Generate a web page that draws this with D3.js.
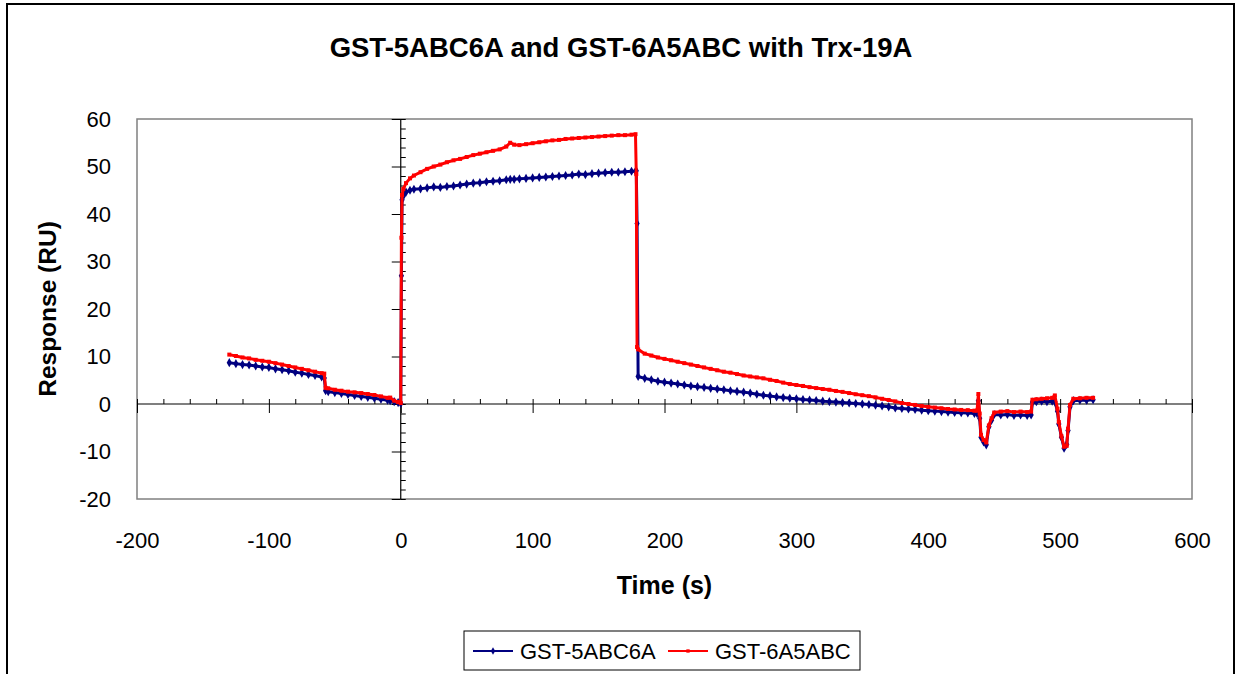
<!DOCTYPE html>
<html>
<head>
<meta charset="utf-8">
<script src="https://cdn.jsdelivr.net/npm/d3@7/dist/d3.min.js"></script>
<style>
  html, body { margin: 0; padding: 0; background: #fff; }
  svg { display: block; }
  text { font-family: "Liberation Sans", Arial, sans-serif; fill: #000; }
</style>
</head>
<body>
<svg id="chart" width="1236" height="674"></svg>
<script>
// Sensorgram: GST fusion proteins binding Trx-19A (response in RU vs time in s)

// Baseline before injection
const baselineTime = [-130,-125,-120,-115,-110,-105,-100,-95,-90,-85,-80,-75,-70,-65,-60,-58,-57,-55,-50,-45,-40,-35,-30,-25,-20,-15,-10,-8,-5,-2,0];
const baselineBlue = [8.7,8.5,8.3,8.2,8.0,7.8,7.7,7.4,7.2,7.0,6.7,6.5,6.2,6.0,5.7,5.5,2.8,2.6,2.4,2.2,2.0,1.8,1.6,1.4,1.2,1.0,0.8,0.7,0.5,0.3,0.1];
const baselineRed  = [10.4,10.1,9.8,9.6,9.3,9.1,8.9,8.6,8.3,8.0,7.7,7.4,7.1,6.8,6.5,6.4,3.4,3.3,3.0,2.8,2.6,2.45,2.3,2.1,1.9,1.6,1.3,1.35,0.7,0.4,0.2];

// Association phase
const assocTime = [0.5,1,2,4,7,10,15,20,25,30,35,40,45,50,55,60,65,70,75,80,83,86,90,95,100,105,110,115,120,125,130,135,140,145,150,155,160,165,170,175,178,178.6,179.2];
const assocBlue = [27,43,43.8,44.6,45.0,45.2,45.3,45.5,45.7,45.6,45.8,45.9,46.1,46.3,46.5,46.6,46.8,46.9,47.0,47.2,47.3,47.3,47.4,47.5,47.6,47.7,47.8,47.9,48.0,48.1,48.2,48.4,48.3,48.5,48.6,48.7,48.8,48.8,48.9,49.0,49.0,49.1,38.0];
const assocRed  = [35,44,45.3,46.5,47.5,48.1,48.8,49.5,50.0,50.4,50.9,51.3,51.6,52.0,52.4,52.7,53.0,53.3,53.6,54.2,55.0,54.6,54.5,54.7,54.9,55.1,55.3,55.5,55.6,55.8,55.9,56.0,56.1,56.2,56.3,56.4,56.5,56.6,56.6,56.7,56.8,48.4,12.0];

// Dissociation and regeneration pulses
const dissocTime = [180,185,190,195,200,205,210,215,220,225,230,235,240,245,250,255,260,265,270,275,280,285,290,295,300,305,310,315,320,325,330,335,340,345,350,355,360,365,370,375,380,385,390,395,400,405,410,415,420,425,430,435,
  437,438,439,440,442,444,446,448,450,455,460,465,470,475,478,479,482,486,490,494,496,498,499,501,503,505,506,507.5,510,515,520,525];
const dissocBlue = [5.8,5.4,5.1,4.8,4.6,4.4,4.2,4.0,3.8,3.65,3.5,3.3,3.15,3.0,2.8,2.65,2.5,2.3,2.05,1.85,1.7,1.5,1.35,1.2,1.1,0.95,0.85,0.75,0.6,0.5,0.4,0.3,0.2,0.1,0,-0.1,-0.25,-0.4,-0.6,-0.85,-0.95,-1.05,-1.15,-1.3,-1.4,-1.5,-1.6,-1.7,-1.8,-1.85,-1.9,-2.0,
  -2.0,0.7,-3.0,-7.0,-8.0,-8.6,-4.8,-3.4,-2.2,-2.3,-2.2,-2.4,-2.3,-2.4,-2.3,0.4,0.5,0.6,0.5,0.6,0.5,-1.5,-4.2,-7.0,-9.3,-8.5,-5.6,-0.6,0.7,0.8,0.8,0.9];
const dissocRed  = [11.5,10.6,10.2,9.8,9.5,9.2,8.9,8.6,8.3,8.0,7.7,7.4,7.1,6.8,6.6,6.3,6.0,5.8,5.6,5.4,5.1,4.85,4.5,4.2,4.0,3.8,3.55,3.35,3.15,3.0,2.75,2.55,2.3,2.05,1.85,1.65,1.4,1.1,0.85,0.55,0.2,0.0,-0.2,-0.4,-0.6,-0.75,-0.9,-1.05,-1.15,-1.25,-1.3,-1.4,
  -1.4,2.1,-2.0,-6.5,-7.6,-8.1,-4.5,-3.0,-1.8,-1.6,-1.5,-1.7,-1.6,-1.7,-1.6,0.9,1.0,1.1,1.2,1.3,1.8,-1.0,-3.8,-6.8,-9.0,-8.8,-5.2,-0.2,1.1,1.2,1.3,1.3];

const seriesNames = ["GST-5ABC6A", "GST-6A5ABC"];
const seriesColors = ["#000080", "#FF0000"];
const xTickValues = [-200,-100,0,100,200,300,400,500,600];
const yTickValues = [-20,-10,0,10,20,30,40,50,60];

const timeAll = baselineTime.concat(assocTime, dissocTime);
const series = [
  { name: seriesNames[0], color: seriesColors[0], values: baselineBlue.concat(assocBlue, dissocBlue), symbol: d3.symbolDiamond, size: 24 },
  { name: seriesNames[1], color: seriesColors[1], values: baselineRed.concat(assocRed, dissocRed), symbol: d3.symbolSquare, size: 16 }
];

const svg = d3.select("#chart");
const plot = { left: 137, top: 119, right: 1192, bottom: 499 };

const x = d3.scaleLinear().domain([-200, 600]).range([plot.left, plot.right]);
const y = d3.scaleLinear().domain([-20, 60]).range([plot.bottom, plot.top]);
const plainNum = d => String(d);

// outer frame
svg.append("rect").attr("x", 7).attr("y", 4).attr("width", 1227).attr("height", 720)
  .attr("fill", "#fff").attr("stroke", "#000").attr("stroke-width", 2);

// title
svg.append("text").attr("x", 621).attr("y", 57).attr("text-anchor", "middle")
  .style("font-size", "27.5px").style("font-weight", "bold")
  .text("GST-5ABC6A and GST-6A5ABC with Trx-19A");

// plot area
svg.append("rect").attr("x", plot.left).attr("y", plot.top)
  .attr("width", plot.right - plot.left).attr("height", plot.bottom - plot.top)
  .attr("fill", "#fff").attr("stroke", "#808080").attr("stroke-width", 1.5);

function styleAxis(g) {
  g.selectAll("path").remove();
  g.selectAll("line").attr("stroke", "#000").attr("stroke-width", 1);
  g.selectAll("text").remove();
}

// X axis crossing at y = 0
const xMinor = d3.range(-200, 601, 20);
svg.append("g").attr("transform", `translate(0,${y(0)})`)
  .call(d3.axisTop(x).tickValues(xMinor).tickSize(5)).call(styleAxis);
svg.append("g").attr("transform", `translate(0,${y(0)})`)
  .call(d3.axisBottom(x).tickValues(xTickValues).tickSize(9)).call(styleAxis);
svg.append("line").attr("x1", plot.left).attr("x2", plot.right)
  .attr("y1", y(0)).attr("y2", y(0)).attr("stroke", "#000").attr("stroke-width", 1.2);

// Y axis crossing at x = 0
const yMinor = d3.range(-20, 61, 2);
svg.append("g").attr("transform", `translate(${x(0)},0)`)
  .call(d3.axisRight(y).tickValues(yMinor).tickSize(5)).call(styleAxis);
svg.append("g").attr("transform", `translate(${x(0)},0)`)
  .call(d3.axisLeft(y).tickValues(yTickValues).tickSize(9)).call(styleAxis);
svg.append("line").attr("x1", x(0)).attr("x2", x(0))
  .attr("y1", plot.top).attr("y2", plot.bottom).attr("stroke", "#000").attr("stroke-width", 1.2);

// tick labels at the low side of the plot
const xLab = svg.append("g").attr("transform", `translate(0,${plot.bottom})`)
  .call(d3.axisBottom(x).tickValues(xTickValues).tickFormat(plainNum).tickSize(0).tickPadding(33));
xLab.select(".domain").remove();
xLab.selectAll("text").style("font-size", "22px").style("font-family", "Liberation Sans, Arial, sans-serif");

const yLab = svg.append("g").attr("transform", `translate(${plot.left},0)`)
  .call(d3.axisLeft(y).tickValues(yTickValues).tickFormat(plainNum).tickSize(0).tickPadding(26));
yLab.select(".domain").remove();
yLab.selectAll("text").style("font-size", "22px").style("font-family", "Liberation Sans, Arial, sans-serif");

// axis titles
svg.append("text").attr("x", (plot.left + plot.right) / 2).attr("y", 594)
  .attr("text-anchor", "middle").style("font-size", "25px").style("font-weight", "bold")
  .text("Time (s)");
svg.append("text").attr("transform", `translate(56,${(plot.top + plot.bottom) / 2}) rotate(-90)`)
  .attr("text-anchor", "middle").style("font-size", "24.5px").style("font-weight", "bold")
  .text("Response (RU)");

// series
const line = d3.line().x(d => x(d[0])).y(d => y(d[1]));
series.forEach(s => {
  const pts = timeAll.map((t, i) => [t, s.values[i]]);
  const g = svg.append("g");
  g.append("path").datum(pts).attr("d", line).attr("fill", "none")
    .attr("stroke", s.color).attr("stroke-width", 3).attr("stroke-linejoin", "round");
  g.selectAll("path.pt").data(pts).join("path").attr("class", "pt")
    .attr("transform", d => `translate(${x(d[0])},${y(d[1])})`)
    .attr("d", d3.symbol().type(s.symbol).size(s.size)).attr("fill", s.color);
});

// legend
const lg = svg.append("g");
lg.append("rect").attr("x", 464).attr("y", 631).attr("width", 396).attr("height", 39)
  .attr("fill", "#fff").attr("stroke", "#000").attr("stroke-width", 1);
const legendX = [473, 668];
series.forEach((s, i) => {
  const x0 = legendX[i];
  lg.append("line").attr("x1", x0).attr("x2", x0 + 40).attr("y1", 651).attr("y2", 651)
    .attr("stroke", s.color).attr("stroke-width", 2);
  lg.append("path").attr("transform", `translate(${x0 + 20},651)`)
    .attr("d", d3.symbol().type(s.symbol).size(s.size * 0.7)).attr("fill", s.color);
  lg.append("text").attr("x", x0 + 47).attr("y", 659).style("font-size", "22px").text(s.name);
});
</script>
</body>
</html>
